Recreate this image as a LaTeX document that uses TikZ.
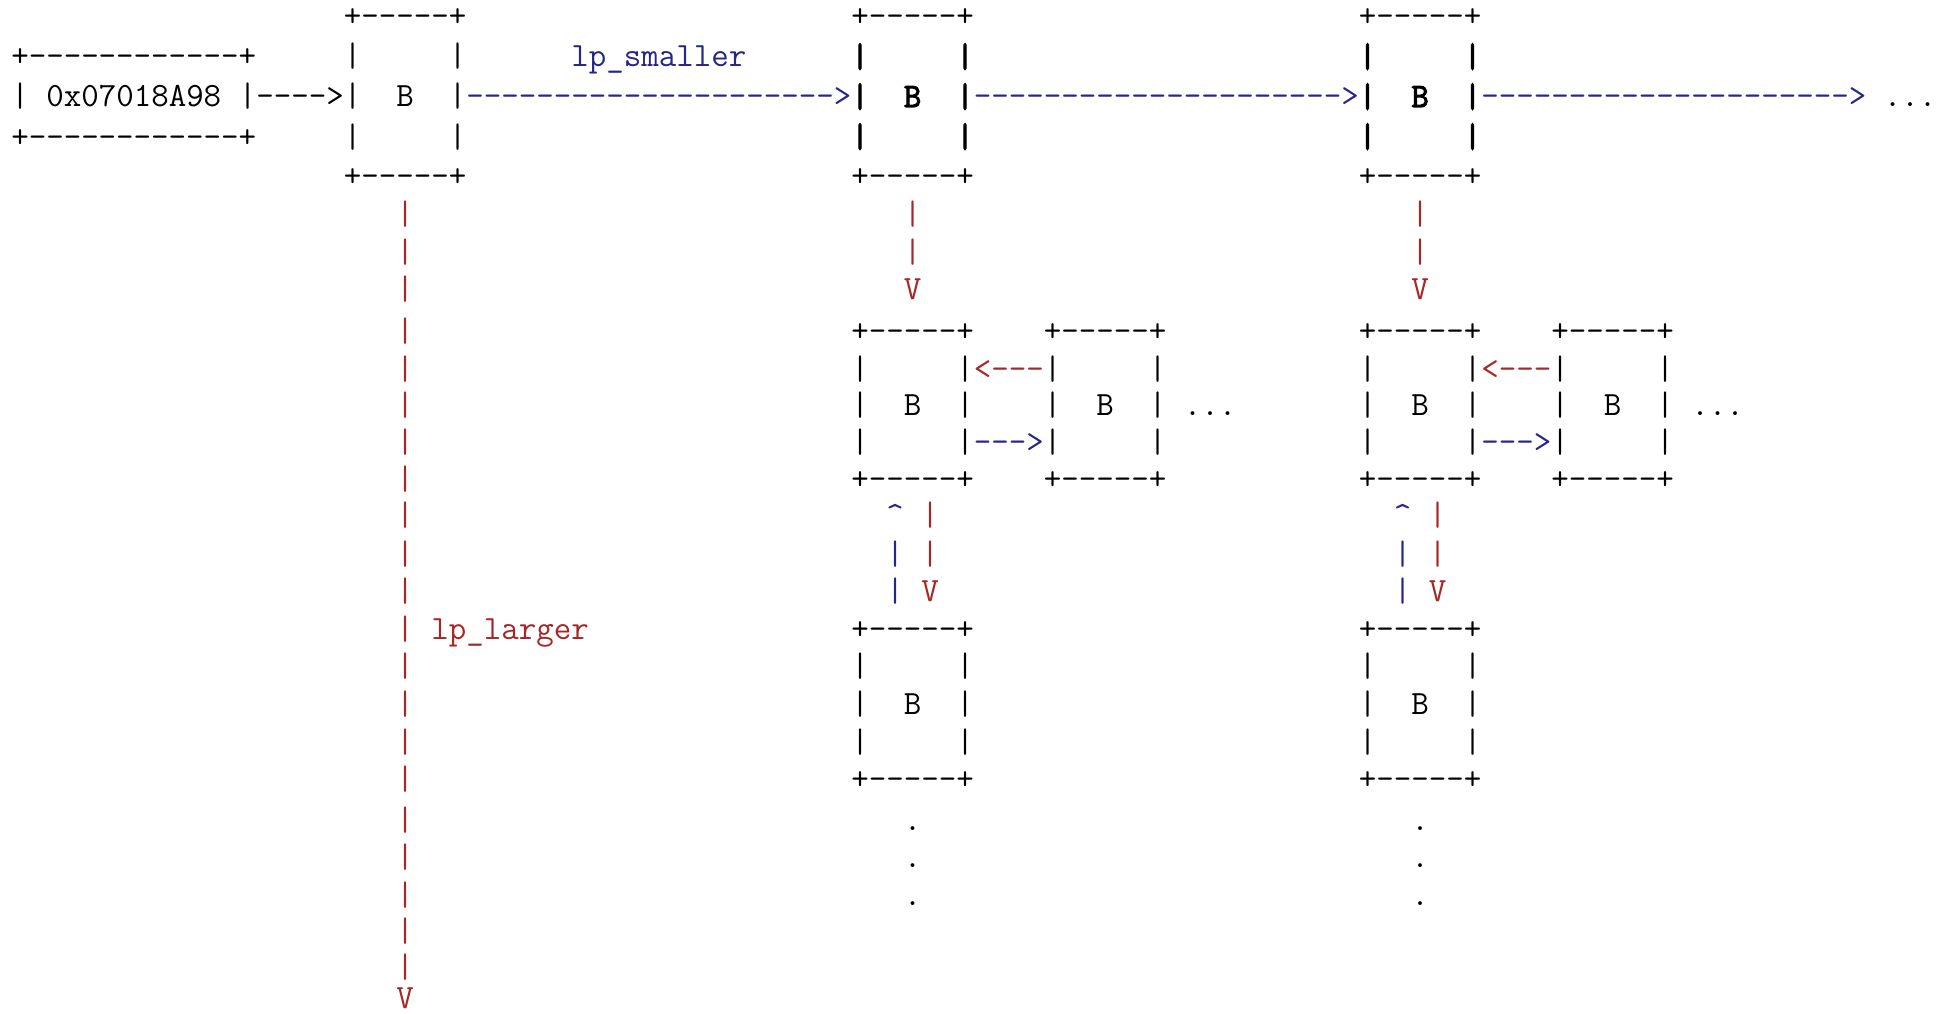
\documentclass[tikz,border=0pt]{standalone}
\usepackage{fontspec}
\definecolor{linkblue}{RGB}{38,38,135}
\definecolor{linkred}{RGB}{165,40,40}

% baseline positions of the text rows (y grows downwards)
\def\rowlist{{18,58,98,138,177,215,253,290,332,370,406,443,480,516,555,592,630,667,705,743,780,821,858,896,932,968,999}}

% width of one typewriter character at 30pt, used to size the grid font
\newlength\charw
\settowidth\charw{\ttfamily\fontsize{30pt}{36pt}\selectfont M}

% \glyphs{name}{column}{row}{style}{text}: set text on the character grid
\newcommand\glyphs[5]{%
  \pgfmathsetmacro\gridx{11.25+17.5*#2}%
  \pgfmathsetmacro\gridy{\rowlist[#3]+9}%
  \node[#4] (#1) at (\gridx,\gridy) {#5};%
}

\begin{document}
\begin{tikzpicture}[x=1pt,y=-1pt]
\pgfmathsetmacro\gridfont{30*17.5/\charw}
% heavier typewriter face for the emphasised nodes
\font\gridbold="[lmmono12-regular]:embolden=3" at \gridfont pt
\tikzset{
  txt/.style={anchor=base west, inner sep=0pt, outer sep=0pt,
              font=\ttfamily\fontsize{\gridfont pt}{40pt}\selectfont, text=black},
  bld/.style={txt, font=\gridbold},
  blu/.style={txt, text=linkblue},
  rd/.style={txt, text=linkred},
}
\useasboundingbox[fill=white] (0,0) rectangle (1943,1014);

% ---- head pointer box ----
\glyphs{hT}{0}{1}{txt}{+------------+}
\glyphs{hL}{0}{2}{txt}{|}
\glyphs{hV}{2}{2}{txt}{0x07018A98}
\glyphs{hA}{13}{2}{txt}{|---->|}
\glyphs{hB}{0}{3}{txt}{+------------+}

% ---- first B node ----
\glyphs{aT}{19}{0}{txt}{+-----+}
\glyphs{aL1}{19}{1}{txt}{|}
\glyphs{aR1}{25}{1}{txt}{|}
\glyphs{aB}{22}{2}{txt}{B}
\glyphs{aR2}{25}{2}{txt}{|}
\glyphs{aL3}{19}{3}{txt}{|}
\glyphs{aR3}{25}{3}{txt}{|}
\glyphs{aD}{19}{4}{txt}{+-----+}

% ---- lp_smaller chain along the top ----
\glyphs{sLab}{32}{1}{blu}{lp\_smaller}
\glyphs{s1}{26}{2}{blu}{--------------------->}
\glyphs{s2}{55}{2}{blu}{--------------------->}
\glyphs{s3}{84}{2}{blu}{--------------------->}
\glyphs{sEnd}{107}{2}{txt}{...}

% ---- lp_larger from the first node ----
\foreach \r in {5,...,25}{\glyphs{lv\r}{22}{\r}{rd}{|}}
\glyphs{lHead}{22}{26}{rd}{V}
\glyphs{lLab}{24}{16}{rd}{lp\_larger}

% ---- two columns of sub-trees (offset 29 characters) ----
\foreach \o [count=\k] in {48,77}{
  \pgfmathtruncatemacro\c{\o}
  \pgfmathtruncatemacro\cr{\o+6}
  \pgfmathtruncatemacro\cm{\o+3}
  \pgfmathtruncatemacro\cg{\o+7}
  \pgfmathtruncatemacro\cs{\o+11}
  \pgfmathtruncatemacro\csr{\o+17}
  \pgfmathtruncatemacro\csm{\o+14}
  \pgfmathtruncatemacro\cdots{\o+19}
  \pgfmathtruncatemacro\cup{\o+2}
  \pgfmathtruncatemacro\cdn{\o+4}
  % bold node on the top chain
  \glyphs{t\k T}{\c}{0}{txt}{+-----+}
  \glyphs{t\k L1}{\c}{1}{bld}{|}
  \glyphs{t\k R1}{\cr}{1}{bld}{|}
  \glyphs{t\k L2}{\c}{2}{bld}{|}
  \glyphs{t\k B}{\cm}{2}{bld}{B}
  \glyphs{t\k R2}{\cr}{2}{bld}{|}
  \glyphs{t\k L3}{\c}{3}{bld}{|}
  \glyphs{t\k R3}{\cr}{3}{bld}{|}
  \glyphs{t\k D}{\c}{4}{txt}{+-----+}
  % link down to the sub-node
  \glyphs{d\k a}{\cm}{5}{rd}{|}
  \glyphs{d\k b}{\cm}{6}{rd}{|}
  \glyphs{d\k h}{\cm}{7}{rd}{V}
  % sub-node and its sibling
  \glyphs{m\k T}{\c}{8}{txt}{+-----+}
  \glyphs{n\k T}{\cs}{8}{txt}{+-----+}
  \glyphs{m\k L1}{\c}{9}{txt}{|}
  \glyphs{m\k R1}{\cr}{9}{txt}{|}
  \glyphs{e\k l}{\cg}{9}{rd}{<---}
  \glyphs{n\k L1}{\cs}{9}{txt}{|}
  \glyphs{n\k R1}{\csr}{9}{txt}{|}
  \glyphs{m\k L2}{\c}{10}{txt}{|}
  \glyphs{m\k B}{\cm}{10}{txt}{B}
  \glyphs{m\k R2}{\cr}{10}{txt}{|}
  \glyphs{n\k L2}{\cs}{10}{txt}{|}
  \glyphs{n\k B}{\csm}{10}{txt}{B}
  \glyphs{n\k R2}{\csr}{10}{txt}{|}
  \glyphs{n\k more}{\cdots}{10}{txt}{...}
  \glyphs{m\k L3}{\c}{11}{txt}{|}
  \glyphs{m\k R3}{\cr}{11}{txt}{|}
  \glyphs{e\k r}{\cg}{11}{blu}{--->}
  \glyphs{n\k L3}{\cs}{11}{txt}{|}
  \glyphs{n\k R3}{\csr}{11}{txt}{|}
  \glyphs{m\k D}{\c}{12}{txt}{+-----+}
  \glyphs{n\k D}{\cs}{12}{txt}{+-----+}
  % two-way link to the node below
  \glyphs{u\k h}{\cup}{13}{blu}{\textasciicircum}
  \glyphs{u\k a}{\cup}{14}{blu}{|}
  \glyphs{u\k b}{\cup}{15}{blu}{|}
  \glyphs{v\k a}{\cdn}{13}{rd}{|}
  \glyphs{v\k b}{\cdn}{14}{rd}{|}
  \glyphs{v\k h}{\cdn}{15}{rd}{V}
  % lower node
  \glyphs{w\k T}{\c}{16}{txt}{+-----+}
  \glyphs{w\k L1}{\c}{17}{txt}{|}
  \glyphs{w\k R1}{\cr}{17}{txt}{|}
  \glyphs{w\k L2}{\c}{18}{txt}{|}
  \glyphs{w\k B}{\cm}{18}{txt}{B}
  \glyphs{w\k R2}{\cr}{18}{txt}{|}
  \glyphs{w\k L3}{\c}{19}{txt}{|}
  \glyphs{w\k R3}{\cr}{19}{txt}{|}
  \glyphs{w\k D}{\c}{20}{txt}{+-----+}
  \glyphs{w\k x}{\cm}{21}{txt}{.}
  \glyphs{w\k y}{\cm}{22}{txt}{.}
  \glyphs{w\k z}{\cm}{23}{txt}{.}
}
\end{tikzpicture}
\end{document}
